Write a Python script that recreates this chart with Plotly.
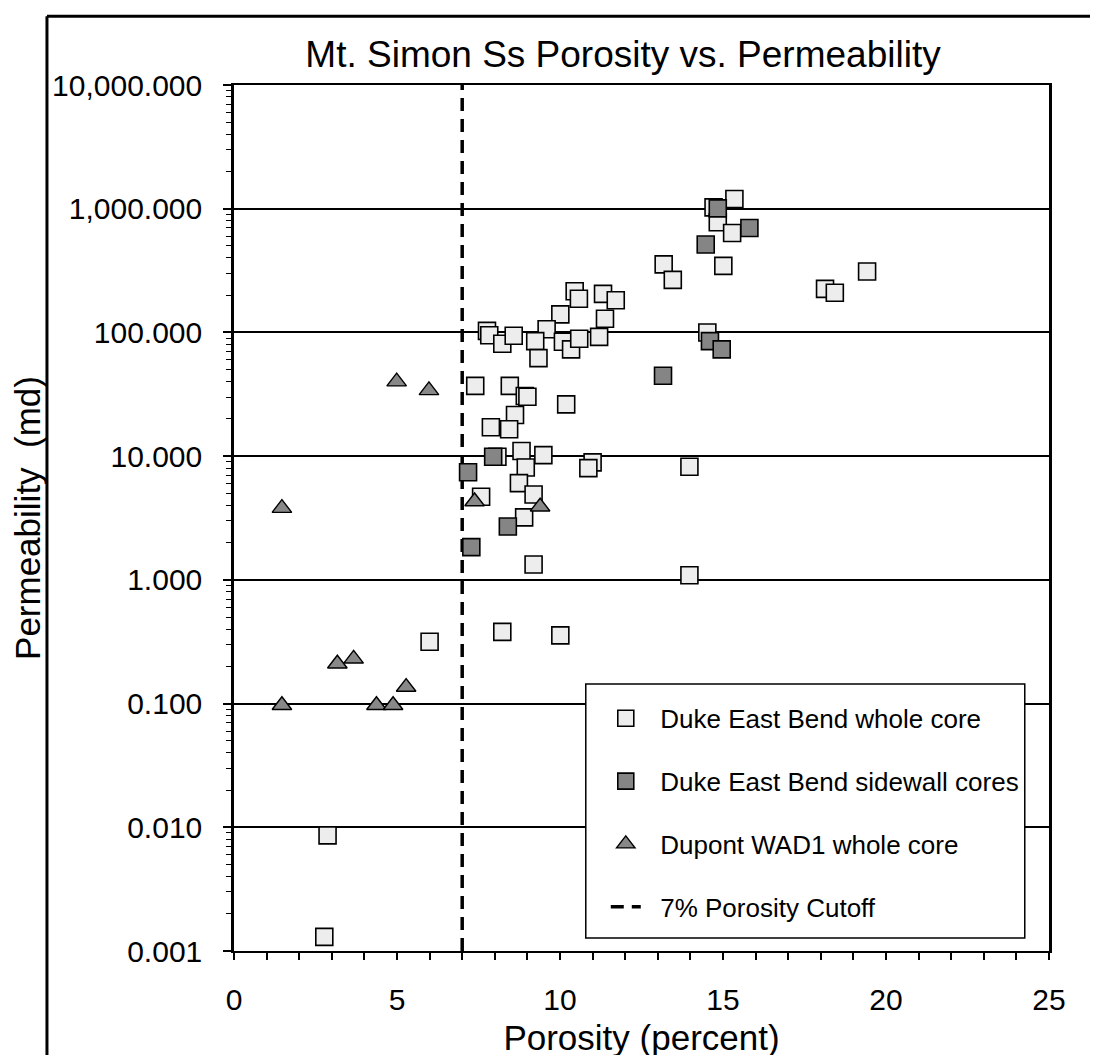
import plotly.graph_objects as go

# ---------------- data ----------------
duke_whole_x = [10.45, 10.58, 11.32, 11.71, 11.38, 10.01, 9.59, 7.76, 7.83, 8.23,
                8.58, 9.24, 9.34, 10.09, 10.34, 10.59, 11.20, 7.40, 8.46, 8.92,
                9.00, 10.19, 8.62, 7.88, 8.44, 8.82, 8.08, 9.49, 8.95, 11.00,
                10.87, 8.74, 9.19, 7.58, 8.90, 9.19, 15.35, 14.71, 14.84, 15.28,
                15.01, 13.18, 13.46, 19.42, 18.13, 18.43, 14.52, 13.97, 13.97, 8.23,
                10.01, 6.00, 2.87, 2.77]
duke_whole_y = [215, 187, 205, 182, 129, 140, 106, 103, 95, 81,
                94, 85, 62, 84, 73, 89, 92, 37, 37, 30.6,
                30.2, 26.2, 21.5, 17.1, 16.5, 11.0, 9.9, 10.2, 8.1, 8.9,
                8.0, 6.05, 4.9, 4.7, 3.2, 1.33, 1197, 1025, 777, 637,
                345, 355, 266, 311, 225, 209, 100, 8.2, 1.09, 0.38,
                0.356, 0.316, 0.0086, 0.0013]

duke_side_x = [7.95, 7.18, 14.84, 15.81, 14.47, 14.60, 14.96, 13.16, 8.40, 7.28]
duke_side_y = [9.9, 7.4, 1007, 699, 514, 85, 73, 44.6, 2.7, 1.84]

dupont_x = [4.99, 5.98, 1.47, 7.38, 9.39, 3.17, 3.67, 5.28, 1.47, 4.37, 4.88]
dupont_y = [40, 34, 3.8, 4.3, 3.9, 0.21, 0.23, 0.136, 0.097, 0.097, 0.097]

cutoff_x = [7, 7]
cutoff_y = [0.001, 10000]

y_tickvals = [0.001, 0.01, 0.1, 1, 10, 100, 1000, 10000]
y_ticktext = ["0.001", "0.010", "0.100", "1.000", "10.000", "100.000",
              "1,000.000", "10,000.000"]
x_tickvals = [0, 5, 10, 15, 20, 25]
x_ticktext = ["0", "5", "10", "15", "20", "25"]

names = ["Duke East Bend whole core", "Duke East Bend sidewall cores",
         "Dupont WAD1 whole core", "7% Porosity Cutoff"]

FONT = "Arial, Liberation Sans, sans-serif"
PAD = "\u00a0\u00a0"

# plot-area geometry in pixels (used to place the legend box / frame)
L, R, T, B = 200, 1041, 77, 946
W, H = 1098, 1055


def px(xp):
    return (xp - L) / (R - L)


def py(yp):
    return (B - yp) / (B - T)


fig = go.Figure()

fig.add_trace(go.Scatter(
    x=cutoff_x, y=cutoff_y, mode="lines", name=PAD + names[3],
    line=dict(color="black", width=3.5, dash="13px,8px"),
    legendgroup="d", legendrank=4, hoverinfo="skip"))

fig.add_trace(go.Scatter(
    x=duke_whole_x, y=duke_whole_y, mode="markers", name=PAD + names[0],
    marker=dict(symbol="square", size=17, color="#ededed",
                line=dict(color="black", width=1.6)),
    legendgroup="a", legendrank=1))

fig.add_trace(go.Scatter(
    x=duke_side_x, y=duke_side_y, mode="markers", name=PAD + names[1],
    marker=dict(symbol="square", size=17, color="#858585",
                line=dict(color="black", width=1.6)),
    legendgroup="b", legendrank=2))

fig.add_trace(go.Scatter(
    x=dupont_x, y=dupont_y, mode="markers", name=PAD + names[2],
    marker=dict(symbol="triangle-up", size=17, color="#888888",
                line=dict(color="black", width=1.4)),
    legendgroup="c", legendrank=3))

fig.update_layout(
    width=W, height=H,
    margin=dict(l=L, r=W - R, t=T, b=H - B),
    paper_bgcolor="white", plot_bgcolor="white",
    font=dict(family=FONT, color="black", size=26),
    title=dict(text="Mt. Simon Ss Porosity vs. Permeability",
               x=615 / W, xanchor="center", xref="container",
               y=1 - 46 / H, yanchor="middle", yref="container",
               font=dict(size=37, family=FONT, color="black")),
    showlegend=True,
    legend=dict(x=px(563), y=py(689),
                xanchor="left", yanchor="top",
                bgcolor="rgba(0,0,0,0)", borderwidth=0,
                font=dict(size=26, family=FONT, color="black"),
                itemsizing="trace", tracegroupgap=26, indentation=20,
                traceorder="grouped"),
)

fig.update_xaxes(
    range=[0, 25], tickvals=x_tickvals, ticktext=x_ticktext,
    showline=True, mirror=True, linecolor="black", linewidth=2,
    ticks="outside", ticklen=7, tickwidth=1.5, tickcolor="black",
    minor=dict(dtick=1, tick0=0, ticks="outside", ticklen=7, tickwidth=1.5,
               tickcolor="black"),
    showgrid=False, zeroline=False,
    tickfont=dict(size=30), ticklabelstandoff=14,
    title=dict(text="Porosity (percent)", font=dict(size=35), standoff=10),
)

fig.update_yaxes(
    type="log", range=[-3, 4], tickvals=y_tickvals, ticktext=y_ticktext,
    showline=True, mirror=True, linecolor="black", linewidth=2.5,
    ticks="outside", ticklen=8, tickwidth=1.5, tickcolor="black",
    minor=dict(ticks="outside", ticklen=5, tickwidth=1.2, tickcolor="black",
               dtick="D1", showgrid=False),
    showgrid=True, gridcolor="black", gridwidth=1.5,
    zeroline=False, tickfont=dict(size=30), ticklabelstandoff=15,
    title=dict(text="Permeability  (md)", font=dict(size=35), standoff=8),
)

# legend box (drawn behind the legend entries, above the data/grid)
fig.add_shape(type="rect", xref="paper", yref="paper",
              x0=px(563), x1=px(1016), y0=py(933), y1=py(678),
              fillcolor="white", line=dict(color="black", width=1.5),
              layer="above")

# outer frame (left and top edges of the surrounding box)
fig.add_shape(type="line", xref="paper", yref="paper",
              x0=px(7), x1=px(7), y0=py(H), y1=py(8),
              line=dict(color="black", width=3))
fig.add_shape(type="line", xref="paper", yref="paper",
              x0=px(7), x1=px(W), y0=py(8), y1=py(8),
              line=dict(color="black", width=3))

fig.write_html("out.html")
